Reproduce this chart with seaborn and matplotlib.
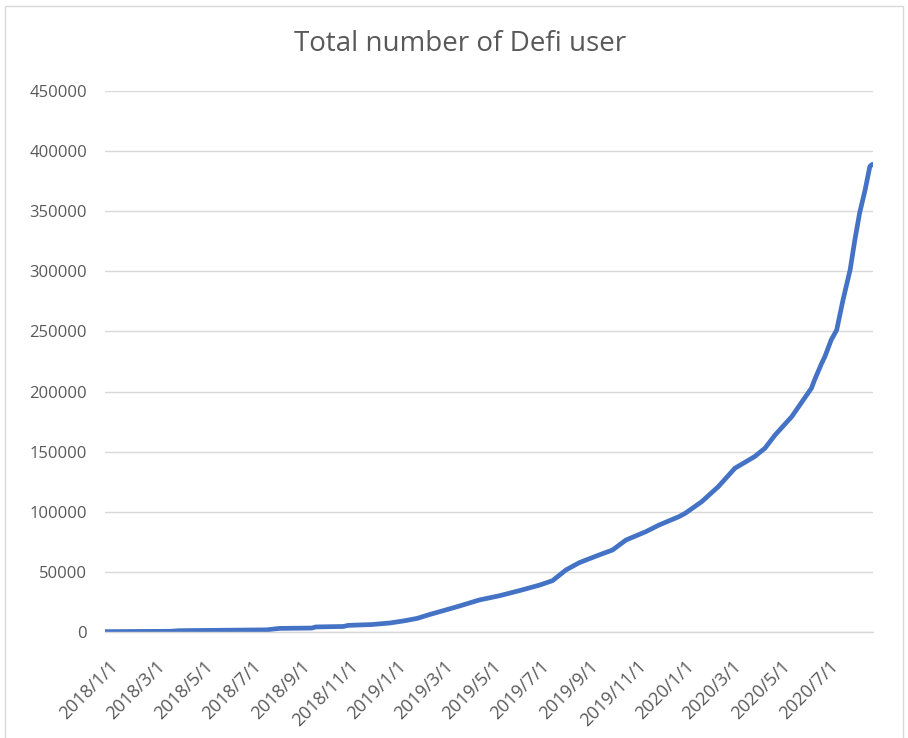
import matplotlib
matplotlib.use("Agg")
import matplotlib.pyplot as plt
import matplotlib.transforms as mtransforms
from matplotlib.patches import Rectangle
import pandas as pd
import seaborn as sns

# ---- data ----
dates = [
    "2018-01-01", "2018-03-25", "2018-04-05", "2018-07-25", "2018-08-10",
    "2018-09-20", "2018-09-25", "2018-10-30", "2018-11-05", "2018-12-05",
    "2018-12-28", "2019-01-16", "2019-02-01", "2019-02-16", "2019-03-01",
    "2019-03-26", "2019-04-20", "2019-05-16", "2019-06-10", "2019-07-05",
    "2019-07-22", "2019-08-08", "2019-08-25", "2019-09-19", "2019-10-06",
    "2019-10-23", "2019-11-17", "2019-12-04", "2019-12-29", "2020-01-06",
    "2020-01-27", "2020-02-17", "2020-03-09", "2020-04-03", "2020-04-16",
    "2020-04-29", "2020-05-20", "2020-06-14", "2020-06-18", "2020-06-27",
    "2020-07-01", "2020-07-09", "2020-07-16", "2020-07-24", "2020-08-02",
    "2020-08-08", "2020-08-14", "2020-08-21", "2020-08-27", "2020-08-30",
]
users = [
    300, 600, 1100, 1800, 3000,
    3300, 4200, 4600, 5500, 6200,
    7500, 9400, 11400, 14500, 16900,
    21600, 26600, 30200, 34400, 38900,
    42700, 51600, 57700, 64100, 68200,
    76500, 83400, 89000, 95900, 98700,
    108400, 120900, 136200, 145900, 152800,
    163900, 179100, 202800, 209700, 223600,
    229000, 242900, 251200, 276200, 301200,
    326100, 348300, 367700, 387200, 389000,
]
tick_dates = [
    "2018-01-01", "2018-03-01", "2018-05-01", "2018-07-01", "2018-09-01",
    "2018-11-01", "2019-01-01", "2019-03-01", "2019-05-01", "2019-07-01",
    "2019-09-01", "2019-11-01", "2020-01-01", "2020-03-01", "2020-05-01",
    "2020-07-01",
]
tick_labels = [
    "2018/1/1", "2018/3/1", "2018/5/1", "2018/7/1", "2018/9/1",
    "2018/11/1", "2019/1/1", "2019/3/1", "2019/5/1", "2019/7/1",
    "2019/9/1", "2019/11/1", "2020/1/1", "2020/3/1", "2020/5/1",
    "2020/7/1",
]
y_ticks = [0, 50000, 100000, 150000, 200000, 250000, 300000, 350000, 400000, 450000]
title = "Total number of Defi user"

df = pd.DataFrame({"date": pd.to_datetime(dates), "users": users})

sns.set_theme(style="white")
plt.rcParams["font.family"] = ["Open Sans", "DejaVu Sans"]

W, H = 908, 738
fig = plt.figure(figsize=(W / 100, H / 100), dpi=100)
fig.patch.set_facecolor("white")
ax = fig.add_axes([105 / W, 1 - 632 / H, (873 - 105) / W, (632 - 91) / H])

sns.lineplot(data=df, x="date", y="users", ax=ax, color="#4472C4",
             linewidth=3.4, solid_capstyle="round", solid_joinstyle="round")

ax.set_xlim(pd.Timestamp("2018-01-01"), pd.Timestamp("2020-08-31"))
ax.set_ylim(0, 450000)
ax.set_yticks(y_ticks)
ax.set_yticklabels([str(v) for v in y_ticks])
ax.set_xticks(pd.to_datetime(tick_dates))
ax.set_xticklabels(tick_labels, rotation=45, ha="right", rotation_mode="anchor")

grey_txt = "#595959"
grid_c = "#d9d9d9"
ax.yaxis.grid(True, color=grid_c, linewidth=1.0)
ax.xaxis.grid(False)
ax.set_axisbelow(True)
for s in ["top", "right", "left"]:
    ax.spines[s].set_visible(False)
ax.spines["bottom"].set_color(grid_c)
ax.spines["bottom"].set_linewidth(1.0)

ax.tick_params(axis="y", length=0, pad=13, labelsize=12, labelcolor=grey_txt)
ax.tick_params(axis="x", length=5, width=1.0, color=grid_c, direction="out",
               pad=13, labelsize=13, labelcolor=grey_txt)
shift = mtransforms.ScaledTranslation(4 / 100, 0, fig.dpi_scale_trans)
for lab in ax.get_xticklabels():
    lab.set_transform(lab.get_transform() + shift)
ax.set_xlabel("")
ax.set_ylabel("")

fig.text(460 / W, 1 - 44 / H, title, ha="center", va="center",
         fontsize=20, color=grey_txt)

fig.patches.append(Rectangle((5 / W, -0.01), (903 - 5) / W, (738 - 6) / H + 0.01,
                             transform=fig.transFigure, fill=False,
                             edgecolor=grid_c, linewidth=1.0))

fig.savefig("out.png", dpi=100)
